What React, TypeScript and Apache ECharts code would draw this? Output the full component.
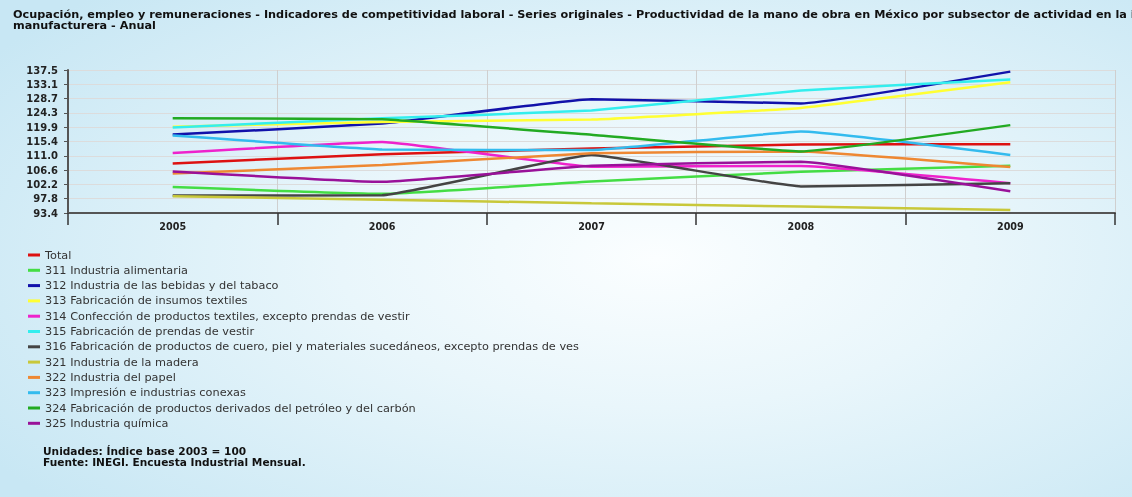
import React, { useEffect, useRef } from 'react';
import * as echarts from 'echarts';

const years = ['2005', '2006', '2007', '2008', '2009'];
const yTickLabels = ['93.4', '97.8', '102.2', '106.6', '111.0', '115.4', '119.9', '124.3', '128.7', '133.1', '137.5'];

const seriesNames = [
  'Total',
  '311 Industria alimentaria',
  '312 Industria de las bebidas y del tabaco',
  '313 Fabricación de insumos textiles',
  '314 Confección de productos textiles, excepto prendas de vestir',
  '315 Fabricación de prendas de vestir',
  '316 Fabricación de productos de cuero, piel y materiales sucedáneos, excepto prendas de vestir',
  '321 Industria de la madera',
  '322 Industria del papel',
  '323 Impresión e industrias conexas',
  '324 Fabricación de productos derivados del petróleo y del carbón',
  '325 Industria química',
];

const total = [108.7, 111.5, 113.3, 114.5, 114.6];
const s311 = [101.4, 99.3, 103.1, 106.1, 108.0];
const s312 = [117.6, 121.0, 128.5, 127.2, 137.0];
const s313 = [120.0, 121.5, 122.2, 125.8, 133.7];
const s314 = [111.9, 115.3, 107.7, 107.9, 102.6];
const s315 = [119.8, 122.6, 125.0, 131.2, 134.6];
const s316 = [98.8, 98.9, 111.3, 101.6, 102.6];
const s321 = [98.6, 97.5, 96.4, 95.4, 94.3];
const s322 = [105.6, 108.2, 111.8, 112.4, 107.6];
const s323 = [117.3, 113.0, 112.8, 118.5, 111.3];
const s324 = [122.6, 122.3, 117.5, 112.4, 120.5];
const s325 = [106.2, 103.0, 108.0, 109.2, 100.1];

const seriesValues = [total, s311, s312, s313, s314, s315, s316, s321, s322, s323, s324, s325];
const seriesColors = [
  '#dd1111', '#44dd44', '#1111aa', '#ffff33', '#ee22cc', '#33eeee',
  '#444444', '#c8c83a', '#ee8833', '#33bbee', '#22aa22', '#991199',
];

const footerLines = ['Unidades: Índice base 2003 = 100', 'Fuente: INEGI. Encuesta Industrial Mensual.'];
const titleText =
  'Ocupación, empleo y remuneraciones - Indicadores de competitividad laboral - Series originales - Productividad de la mano de obra en México por subsector de actividad en la industria\nmanufacturera - Anual';

export default function App() {
  const ref = useRef<HTMLDivElement>(null);
  useEffect(() => {
    if (!ref.current) return;
    const chart = echarts.init(ref.current, null, { renderer: 'svg' });
    const axisFont = { fontFamily: 'DejaVu Sans', fontWeight: 'bold' as const, color: '#222' };
    chart.setOption({
      animation: false,
      backgroundColor: 'transparent',
      title: {
        text: titleText,
        left: 8,
        top: 4,
        textStyle: { fontFamily: 'DejaVu Sans', fontWeight: 'bold', fontSize: 11.25, color: '#111', lineHeight: 11 },
      },
      grid: { left: 68, right: 17, top: 70, bottom: 284, containLabel: false },
      legend: {
        orient: 'vertical',
        left: 23,
        top: 244,
        itemWidth: 12,
        itemHeight: 3,
        itemGap: 3.3,
        icon: 'rect',
        data: seriesNames,
        textStyle: {
          fontFamily: 'DejaVu Sans',
          fontSize: 11.3,
          color: '#333',
          lineHeight: 12,
          width: 541,
          overflow: 'truncate',
          ellipsis: '',
        },
      },
      xAxis: {
        type: 'category',
        data: years,
        boundaryGap: true,
        axisLine: { lineStyle: { color: '#555', width: 2 } },
        axisTick: { show: true, length: 12, interval: 0, lineStyle: { color: '#333', width: 1.5 } },
        axisLabel: { ...axisFont, fontSize: 9.6, margin: 8 },
        splitLine: { show: true, interval: 0, lineStyle: { color: '#cfcfcf', width: 1 } },
      },
      yAxis: [
        { type: 'value', min: 93.4, max: 137.5, show: false },
        {
          type: 'category',
          data: yTickLabels,
          boundaryGap: false,
          position: 'left',
          axisLine: { show: true, lineStyle: { color: '#555', width: 2 } },
          axisTick: { show: true, length: 4, interval: 0, lineStyle: { color: '#555' } },
          axisLabel: { ...axisFont, fontSize: 10, margin: 10, interval: 0 },
          splitLine: { show: true, interval: 0, lineStyle: { color: '#dcdcdc', width: 1 } },
        },
      ],
      graphic: footerLines.map((t, i) => ({
        type: 'text',
        left: 43,
        top: 445 + i * 11,
        style: { text: t, fontFamily: 'DejaVu Sans', fontWeight: 'bold', fontSize: 10.6, fill: '#111' },
      })),
      series: seriesNames.map((name, i) => ({
        name,
        type: 'line',
        yAxisIndex: 0,
        data: seriesValues[i],
        showSymbol: false,
        smooth: 0.1,
        color: seriesColors[i],
        lineStyle: { width: 2.5, color: seriesColors[i] },
      })),
    });
    return () => chart.dispose();
  }, []);
  return (
    <div
      ref={ref}
      style={{
        position: 'fixed',
        left: 0,
        top: 0,
        width: 1132,
        height: 497,
        background: 'radial-gradient(ellipse 70% 75% at 58% 52%, #fbfeff 0%, #e9f6fb 40%, #c8e7f4 100%)',
      }}
    />
  );
}
